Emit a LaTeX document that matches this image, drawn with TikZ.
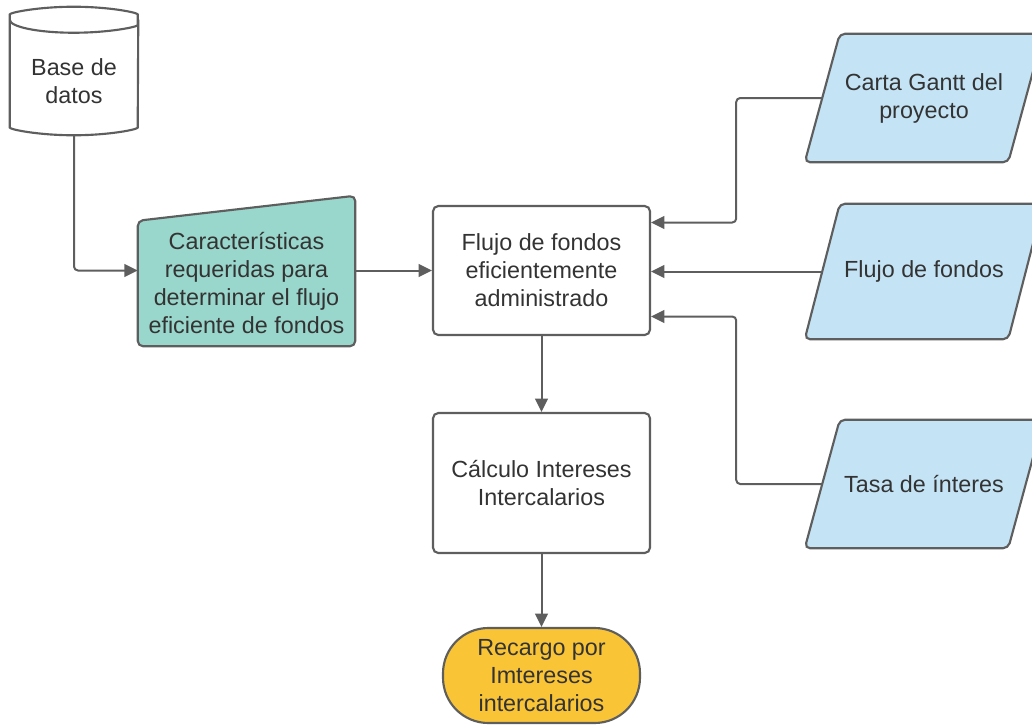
\documentclass[tikz,border=0pt]{standalone}
\usepackage{fontspec}
\setmainfont{Liberation Sans}
\usepackage{tikz}
\usetikzlibrary{calc,arrows.meta,backgrounds,positioning}
\definecolor{edgegray}{HTML}{5E5E5E}
\definecolor{textgray}{HTML}{333333}
\definecolor{tealfill}{HTML}{99D6CB}
\definecolor{bluefill}{HTML}{C4E4F6}
\definecolor{goldfill}{HTML}{FAC437}
\tikzset{
txt/.style={
  align=center,
  text=textgray,
  font=\fontsize{17.5}{21}\selectfont},
block/.style={
  txt,
  rectangle,
  draw=edgegray,
  line width=1.6pt,
  fill=white,
  rounded corners=4pt,
  inner sep=0pt,
  minimum width=162.75pt},
frame/.style={txt, rectangle, inner sep=0pt},
outline/.style={draw=edgegray, line width=1.6pt, rounded corners=4pt},
line/.style={draw=edgegray, line width=1.5pt, rounded corners=3pt,
  -{Triangle[length=10pt,width=9.5pt]}}
}
\begin{document}
\begin{tikzpicture}[x=0.75pt,y=-0.75pt]
    \useasboundingbox (0,0) rectangle (1032,725);
    \clip (0,0) rectangle (1032,725);
    % shapes
    \node [frame, minimum width=96pt, minimum height=96pt] (db) at (74,71) {};
    \node [txt] (dbtext) at (74,81) {Base de\\datos};
    \node [frame, minimum width=162.75pt, minimum height=93.75pt] (char) at (246.5,283.5)
      {Características\\requeridas para\\determinar el flujo\\eficiente de fondos};
    \node [block, minimum height=96.75pt] (flujo) at (541.5,270.5)
      {Flujo de fondos\\eficientemente\\administrado};
    \node [block, minimum height=105pt] (calc) at (541.5,483)
      {Cálculo Intereses\\Intercalarios};
    \node [block, fill=goldfill, rounded corners=34pt, minimum width=147.75pt,
      minimum height=71.25pt] (recargo) at (541.5,675.5)
      {Recargo por\\Imtereses\\intercalarios};
    \node [frame, minimum width=152.25pt, minimum height=96pt] (gantt) at (924,98)
      {Carta Gantt del\\proyecto};
    \node [frame, minimum width=152.25pt, minimum height=101.25pt] (fondos) at (924,271.5)
      {Flujo de fondos};
    \node [frame, minimum width=152.25pt, minimum height=96pt] (tasa) at (924,484)
      {Tasa de ínteres};
    \begin{scope}[on background layer]
    \draw [outline, fill=white] ([yshift=-9.75pt]db.north west)
      arc[start angle=180, end angle=360, x radius=48pt, y radius=9.75pt]
      arc[start angle=0, end angle=180, x radius=48pt, y radius=9.75pt]
      -- ([yshift=9.75pt]db.south west)
      arc[start angle=180, end angle=360, x radius=48pt, y radius=9.75pt]
      -- ([yshift=-9.75pt]db.north east);
    \draw [outline, fill=tealfill] (char.south west) -- (char.north west)
      -- ($(char.north east)+(0,-25)$) -- (char.south east) -- cycle;
    \foreach \n in {gantt,fondos,tasa}
      \draw [outline, fill=bluefill] ($(\n.south west)+(-17.5,0)$)
        -- ($(\n.north west)+(17.5,0)$) -- ($(\n.north east)+(17.5,0)$)
        -- ($(\n.south east)+(-17.5,0)$) -- cycle;
    \end{scope}
    % connectors
    \path [line] (db.south) |- (char.west |- flujo.west);
    \path [line] (char.east |- flujo.west) -- (flujo.west);
    \path [line] (flujo) -- (calc);
    \path [line] (calc) -- (recargo);
    \path [line] (gantt.west) -- ++(-86,0) |- ($(flujo.east)+(0,-48)$);
    \path [line] (fondos.west) -- (fondos.west -| flujo.east);
    \path [line] (tasa.west) -- ++(-86,0) |- ($(flujo.east)+(0,46)$);
\end{tikzpicture}
\end{document}
